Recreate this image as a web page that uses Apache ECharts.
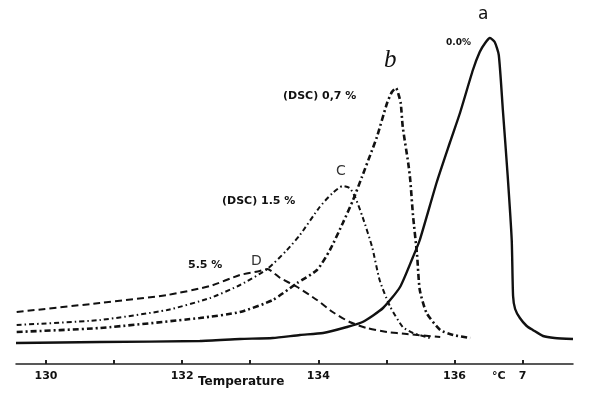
<!DOCTYPE html>
<html>
<head>
<meta charset="utf-8">
<script src="https://cdn.jsdelivr.net/npm/echarts@6/dist/echarts.min.js"></script>
<style>html,body{margin:0;padding:0;background:#fff}#c{width:589px;height:397px}</style>
</head>
<body>
<div id="c"></div>
<script>
// Temperature (°C), heat-flow (arbitrary units)
const curveA = [[129.56,-2],[130.79,-1],[132.26,0],[132.85,2],[133.33,3],[133.73,6],[134.07,8],[134.42,14],[134.65,19],[134.95,33],[135.20,54],[135.39,84],[135.49,101],[135.74,159],[135.93,198],[136.08,228],[136.27,271],[136.37,289],[136.45,298],[136.52,303],[136.59,299],[136.65,286],[136.71,231],[136.78,166],[136.84,101],[136.86,45],[136.89,32],[136.96,23],[137.06,15],[137.15,11],[137.30,5],[137.47,3],[137.74,2]];
const curveB = [[129.57,9],[130.79,13],[132.26,23],[132.85,29],[133.33,41],[133.69,58],[133.98,71],[134.17,91],[134.36,118],[134.51,141],[134.64,164],[134.79,191],[134.86,204],[135.01,238],[135.08,249],[135.14,253],[135.18,246],[135.21,238],[135.24,214],[135.32,178],[135.35,161],[135.39,126],[135.45,86],[135.49,51],[135.59,28],[135.79,11],[135.98,6],[136.23,3]];
const curveC = [[129.57,16],[130.79,21],[131.78,31],[132.41,43],[132.85,56],[133.25,72],[133.54,91],[133.73,106],[134.02,134],[134.21,148],[134.36,155],[134.46,153],[134.54,144],[134.65,124],[134.79,94],[134.90,61],[135.05,35],[135.24,14],[135.39,8],[135.64,3]];
const curveD = [[129.57,29],[130.79,38],[131.78,46],[132.41,55],[132.85,66],[133.14,70],[133.25,72],[133.44,63],[133.69,54],[133.98,41],[134.21,29],[134.46,19],[134.71,13],[135.01,9],[135.30,7],[135.79,4]];
const tickValues = [130,131,132,133,134,135,136,137];
const labelValues = [130,132,134,136,137];
const labelText = {130:'130',132:'132',134:'134',136:'136',137:'7'};

const chart = echarts.init(document.getElementById('c'));
const lab = {fontFamily:'DejaVu Sans', fontWeight:'bold', fill:'#111'};
chart.setOption({
  backgroundColor:'#fff',
  animation:false,
  grid:{left:16,right:16,top:20,bottom:33},
  xAxis:{
    type:'value', min:129.56, max:137.74,
    axisLine:{show:true,onZero:false,lineStyle:{color:'#222',width:1.5}},
    axisTick:{show:true,inside:true,length:4,customValues:tickValues,lineStyle:{color:'#222',width:2}},
    axisLabel:{show:true,customValues:labelValues,margin:7,fontFamily:'DejaVu Sans',fontWeight:'bold',fontSize:11,color:'#111',
      formatter:v=>labelText[Math.round(v)]||''},
    splitLine:{show:false}
  },
  yAxis:{type:'value',min:-23,max:321,show:false,splitLine:{show:false}},
  series:[
    {type:'line',data:curveA,symbol:'none',smooth:0.2,lineStyle:{color:'#111',width:2.4,type:'solid'}},
    {type:'line',data:curveB,symbol:'none',smooth:0.2,lineStyle:{color:'#111',width:2.6,type:[6,3,2,3]}},
    {type:'line',data:curveC,symbol:'none',smooth:0.2,lineStyle:{color:'#111',width:2,type:[5,3,1.5,3]}},
    {type:'line',data:curveD,symbol:'none',smooth:0.2,lineStyle:{color:'#111',width:2,type:[7,4]}}
  ],
  graphic:[
    {type:'text',left:478,top:6,style:Object.assign({},lab,{text:'a',fontSize:17,fontWeight:'normal',fontFamily:'DejaVu Sans'})},
    {type:'text',left:446,top:38,style:Object.assign({},lab,{text:'0.0%',fontSize:9})},
    {type:'text',left:384,top:48,style:Object.assign({},lab,{text:'b',fontSize:25,fontStyle:'italic',fontWeight:'normal',fontFamily:'Liberation Serif'})},
    {type:'text',left:283,top:91,style:Object.assign({},lab,{text:'(DSC) 0,7 %',fontSize:11})},
    {type:'text',left:336,top:164,style:Object.assign({},lab,{text:'C',fontSize:14,fontWeight:'normal',fill:'#333'})},
    {type:'text',left:222,top:196,style:Object.assign({},lab,{text:'(DSC) 1.5 %',fontSize:11})},
    {type:'text',left:251,top:254,style:Object.assign({},lab,{text:'D',fontSize:14,fontWeight:'normal',fill:'#333'})},
    {type:'text',left:188,top:260,style:Object.assign({},lab,{text:'5.5 %',fontSize:11})},
    {type:'text',left:492,top:371,style:Object.assign({},lab,{text:'°C',fontSize:11})},
    {type:'text',left:198,top:376,style:Object.assign({},lab,{text:'Temperature',fontSize:12})}
  ]
});
</script>
</body>
</html>
